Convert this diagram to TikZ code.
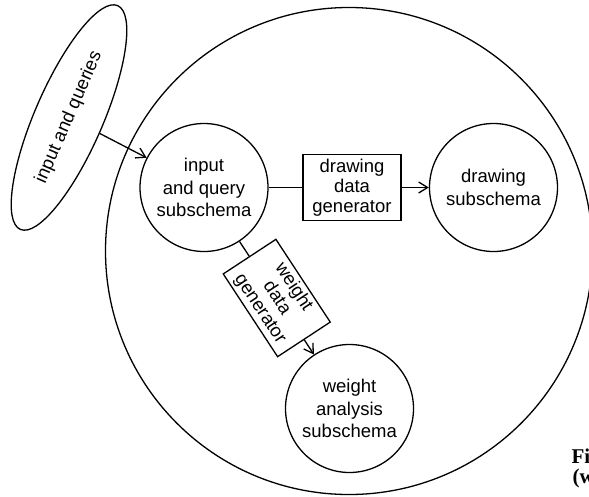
\documentclass[tikz,border=0pt]{standalone}
\usepackage{fontspec}
\setmainfont{Liberation Sans}
\newfontfamily\capfont{Liberation Serif}
\usetikzlibrary{shapes.geometric,arrows.meta,calc}

\tikzset{
  lbl/.style={font=\fontsize{18.5}{22.5}\selectfont, align=center, inner sep=0pt},
  schema/.style={lbl, draw, circle, minimum size=128pt},
  gen/.style={draw, rectangle, align=center, inner sep=0pt,
              font=\fontsize{18.5}{20}\selectfont},
  arr/.style={-{Straight Barb[length=9pt,width=11pt]}},
  caption/.style={font=\capfont\bfseries\fontsize{21}{20.5}\selectfont,
                  anchor=base west, inner sep=0pt},
}

\begin{document}
\begin{tikzpicture}[x=1pt, y=1pt, line width=1.3pt]
  \useasboundingbox (0,0) rectangle (589,-496);
  \clip (0,0) rectangle (589,-496);

  % enclosing schema
  \node[draw, circle, minimum size=487pt] (outer) at (349,-251) {};

  % subschemas
  \node[schema] (iq) at (204,-187.5) {input\\and query\\subschema};
  \node[schema] (ds) at (493.5,-187.5) {drawing\\subschema};
  \node[schema] (wa) at (349.5,-408.5) {weight\\analysis\\subschema};

  % data generators
  \node[gen, minimum width=98pt, minimum height=66pt] (ddg) at (352,-187.5)
       {drawing\\data\\generator};
  \node[gen, minimum width=99pt, minimum height=63pt, rotate=-56.7] (wdg)
       at ($(iq)!0.5!(wa)$) {weight\\data\\generator};

  % external input
  \node[lbl, draw, ellipse, minimum width=244pt, minimum height=68pt,
        rotate=66.5] (inq) at (69,-117.5) {input and queries};

  % connectors
  \draw[arr] (inq) -- (iq);
  \draw (iq) -- (ddg);
  \draw[arr] (ddg) -- (ds);
  \draw (iq) -- (wdg);
  \draw[arr] (wdg) -- (wa);

  % caption
  \node[caption] (cap1) at (571,-463) {Fig.};
  \node[caption] (cap2) at (572,-483) {(w};
\end{tikzpicture}
\end{document}
